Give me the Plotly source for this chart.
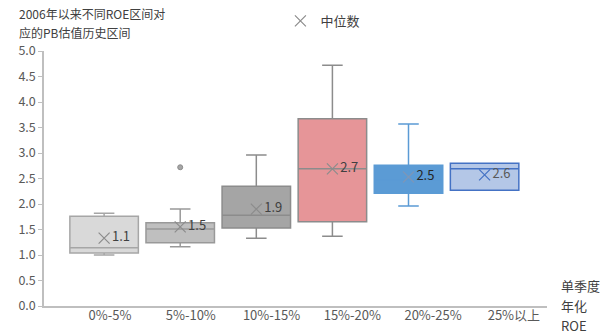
import plotly.graph_objects as go

categories = ["0%-5%", "5%-10%", "10%-15%", "15%-20%", "20%-25%", "25%以上"]
q1 = [1.04, 1.24, 1.53, 1.65, 2.21, 2.27]
median = [1.14, 1.51, 1.78, 2.69, 2.47, 2.69]
q3 = [1.76, 1.63, 2.35, 3.67, 2.76, 2.80]
lowerfence = [1.00, 1.16, 1.33, 1.37, 1.96, 2.27]
upperfence = [1.82, 1.90, 2.96, 4.72, 3.57, 2.80]
mean = [1.33, 1.55, 1.90, 2.69, 2.53, 2.57]
mean_labels = ["1.1", "1.5", "1.9", "2.7", "2.5", "2.6"]
outlier_cat = [1]
outlier_val = [2.72]
y_ticks = [0.0, 0.5, 1.0, 1.5, 2.0, 2.5, 3.0, 3.5, 4.0, 4.5, 5.0]

fills = ["#d9d9d9", "#bfbfbf", "#a5a5a5", "#e69598", "#5b9bd5", "#b4c7e7"]
lines = ["#a6a6a6", "#999999", "#8c8c8c", "#8c8c8c", "#5b9bd5", "#4472c4"]
mean_colors = ["#8c8c8c", "#8c8c8c", "#8c8c8c", "#8c8c8c", "#7d97b8", "#4472c4"]
label_colors = ["#404040", "#404040", "#404040", "#404040", "#262626", "#595959"]

FONT = "Noto Sans CJK SC"
fig = go.Figure()

for i in range(len(categories)):
    fig.add_trace(go.Box(
        x=[i], q1=[q1[i]], median=[median[i]], q3=[q3[i]],
        lowerfence=[lowerfence[i]], upperfence=[upperfence[i]],
        width=0.9, whiskerwidth=0.3,
        fillcolor=fills[i], line=dict(color=lines[i], width=1.5),
        boxpoints=False, showlegend=False, hoverinfo="skip",
    ))

for i in range(len(categories)):
    fig.add_trace(go.Scatter(
        x=[i], y=[mean[i]], mode="markers+text",
        text=[mean_labels[i]], textposition="middle right",
        textfont=dict(family=FONT, size=13, color=label_colors[i]),
        marker=dict(symbol="x-thin-open", size=11, color=mean_colors[i],
                    line=dict(color=mean_colors[i], width=1.2)),
        name="中位数", showlegend=(i == 0),
    ))

fig.add_trace(go.Scatter(
    x=outlier_cat, y=outlier_val, mode="markers",
    marker=dict(symbol="circle", size=5, color="#a6a6a6",
                line=dict(color="#8c8c8c", width=1)),
    showlegend=False,
))

# invisible trace to carry category tick labels on overlay axis
fig.add_trace(go.Scatter(x=list(range(len(categories))), y=[None]*len(categories),
                         xaxis="x2", showlegend=False, mode="markers"))

fig.update_layout(
    width=606, height=335,
    margin=dict(l=44, r=59, t=51, b=29, autoexpand=False),
    paper_bgcolor="white", plot_bgcolor="white",
    font=dict(family=FONT, color="#595959", size=13),
    boxmode="overlay",
    xaxis=dict(range=[-0.79, 5.82], showticklabels=False, showgrid=False,
               zeroline=False, showline=True, linecolor="#bfbfbf", linewidth=1.5,
               ticks=""),
    xaxis2=dict(overlaying="x", range=[-0.817, 5.41], tickvals=list(range(len(categories))),
                ticktext=categories, showgrid=False, zeroline=False, showline=False,
                ticks="", tickfont=dict(family=FONT, size=13, color="#595959"),
                side="bottom", anchor="y"),
    yaxis=dict(range=[0, 5], tickvals=y_ticks, tickformat=".1f",
               showgrid=False, zeroline=False, showline=True,
               linecolor="#bfbfbf", linewidth=1.5, ticks="outside",
               ticklen=4, tickcolor="#bfbfbf",
               tickfont=dict(family=FONT, size=12.5, color="#595959")),
    legend=dict(orientation="h", x=0.47, y=1 - 21 / 335, yref="container",
                xanchor="left", yanchor="middle",
                font=dict(family=FONT, size=13, color="#404040"),
                bgcolor="rgba(0,0,0,0)"),
)

for txt, py in [("2006年以来不同ROE区间对", 13), ("应的PB估值历史区间", 32)]:
    fig.add_annotation(text=txt, xref="paper", yref="paper",
                       x=-0.054, y=1 + (51 - py) / 255, xanchor="left", yanchor="middle",
                       showarrow=False, font=dict(family=FONT, size=12, color="#404040"))
for txt, py in [("单季度", 285), ("年化", 305), ("ROE", 325)]:
    fig.add_annotation(text=txt, xref="paper", yref="paper",
                       x=(559 - 44) / 503, y=(306 - py) / 255,
                       xanchor="left", yanchor="middle", showarrow=False,
                       font=dict(family=FONT, size=13, color="#404040"))

fig.write_html("out.html")
